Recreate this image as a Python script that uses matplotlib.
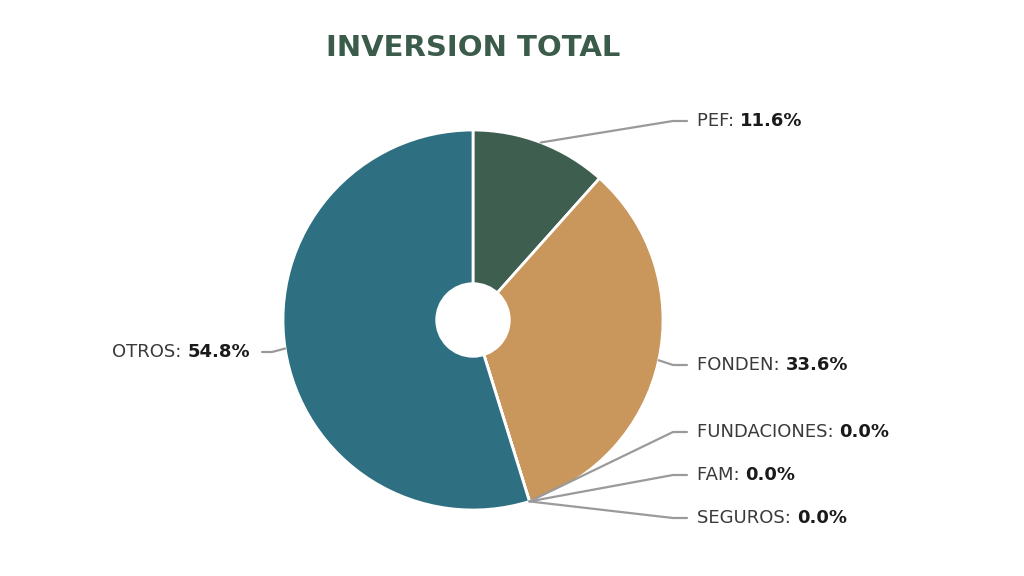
import matplotlib.pyplot as plt
import numpy as np

# data
labels = ['PEF', 'FONDEN', 'FUNDACIONES', 'FAM', 'SEGUROS', 'OTROS']
shares = [11.6, 33.6, 0.0, 0.0, 0.0, 54.8]
colors = ['#3e5e50', '#c9965b', '#8a8a8a', '#8a8a8a', '#8a8a8a', '#2e6f82']

# label anchor points (figure pixels, y measured from bottom) and side
label_pos = {
    'PEF': (697, 455, 'left'),
    'FONDEN': (697, 211, 'left'),
    'FUNDACIONES': (697, 144, 'left'),
    'FAM': (697, 101, 'left'),
    'SEGUROS': (697, 58, 'left'),
    'OTROS': (250, 224, 'right'),
}

plt.rcParams['font.family'] = ['DejaVu Sans']

fig = plt.figure(figsize=(10.24, 5.76), dpi=100)
ax = fig.add_axes([0, 0, 1, 1])
ax.set_xlim(0, 1024)
ax.set_ylim(0, 576)
ax.set_aspect('equal')
ax.axis('off')

cx, cy, r = 473, 256, 190
wedges, _ = ax.pie(shares, colors=colors, startangle=90, counterclock=False,
                   center=(cx, cy), radius=r,
                   wedgeprops=dict(edgecolor='white', linewidth=2))
ax.add_patch(plt.Circle((cx, cy), 37, color='white', zorder=5))
ax.set_xlim(0, 1024)
ax.set_ylim(0, 576)

line_col = '#9a9a9a'
txt_col = '#3a3a3a'
fs = 13
for w, lab, val in zip(wedges, labels, shares):
    ang = np.deg2rad((w.theta1 + w.theta2) / 2)
    px, py = cx + r * np.cos(ang), cy + r * np.sin(ang)
    tx, ty, side = label_pos[lab]
    if side == 'left':
        ax.plot([px, tx - 24, tx - 10], [py, ty, ty], color=line_col, lw=1.6,
                solid_capstyle='round', zorder=1)
        t1 = ax.text(tx, ty, f'{lab}: ', ha='left', va='center', fontsize=fs,
                     color=txt_col)
        ax.annotate(f'{val:.1f}%', xy=(1, 0), xycoords=t1, ha='left', va='bottom',
                    fontsize=fs, fontweight='bold', color='#1a1a1a')
    else:
        ax.plot([px, tx + 22, tx + 12], [py, ty, ty], color=line_col, lw=1.6,
                solid_capstyle='round', zorder=1)
        t2 = ax.text(tx, ty, f'{val:.1f}%', ha='right', va='center', fontsize=fs,
                     fontweight='bold', color='#1a1a1a')
        ax.annotate(f'{lab}: ', xy=(0, 0), xycoords=t2, ha='right', va='bottom',
                    fontsize=fs, color=txt_col)

ax.text(473, 528, 'INVERSION TOTAL', ha='center', va='center', fontsize=21,
        fontweight='bold', color='#3b5b4b')

fig.savefig('out.png', dpi=100)
